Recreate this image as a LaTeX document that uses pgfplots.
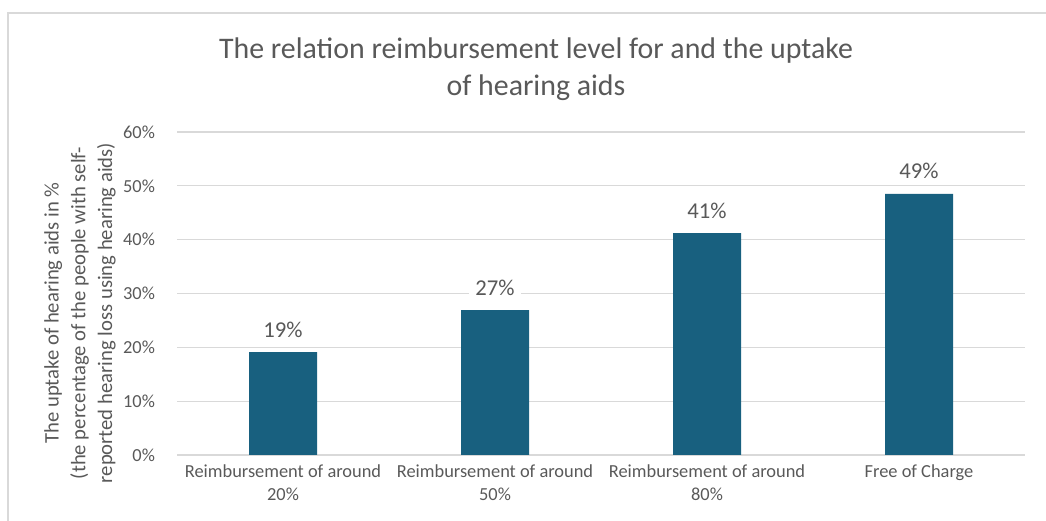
\documentclass[border=0pt]{standalone}
\usepackage{pgfplots}
\pgfplotsset{compat=1.18}
\usepackage{fontspec}
\setmainfont{Carlito}
\definecolor{barc}{HTML}{18607F}
\definecolor{txt}{HTML}{595959}
\definecolor{gridc}{HTML}{D9D9D9}
\begin{document}
\begin{tikzpicture}[x=0.75pt,y=0.75pt]
\useasboundingbox (0,0) rectangle (1046,521);
\draw[gridc, line width=1.5pt] (8,-5) -- (8,508) -- (1050,508);
\node[txt, font=\fontsize{22.4}{28}\selectfont, align=center] at (536,452) {The relation reimbursement level for and the uptake\\of hearing aids};
\node[txt, font=\fontsize{15.5}{20}\selectfont, align=center, rotate=90] at (80,208) {The uptake of hearing aids in \%\\(the percentage of the people with self-\\reported hearing loss using hearing aids)};
\begin{axis}[
  at={(132.75pt,49.5pt)}, anchor=south west,
  scale only axis, width=636pt, height=242.25pt,
  xmin=-0.5, xmax=3.5, ymin=0, ymax=60,
  ybar, bar width=51pt,
  axis x line*=bottom, axis y line*=left,
  y axis line style={draw=none},
  x axis line style={draw=gridc, line width=0.8pt},
  major tick length=0pt,
  ytick={0,10,...,60},
  yticklabel={\pgfmathprintnumber{\tick}\%},
  xtick={0,1,2,3},
  xticklabels={Reimbursement of around\\20\%, Reimbursement of around\\50\%, Reimbursement of around\\80\%, Free of Charge},
  xticklabel style={align=center, font=\fontsize{13.8}{16.8}\selectfont, text=txt, yshift=-4pt},
  yticklabel style={font=\fontsize{13.8}{15}\selectfont, text=txt, xshift=-13pt},
  /pgf/number format/assume math mode=true,
  ymajorgrids, grid style={draw=gridc, line width=0.8pt},
  point meta=explicit symbolic,
  nodes near coords,
  nodes near coords style={font=\fontsize{17}{20}\selectfont, text=txt, fill=white, inner xsep=5pt, inner ysep=2pt, anchor=south, yshift=9pt},
  clip=false,
]
\addplot[fill=barc, draw=none] table[meta=label] {
x y label
0 19.1 19\%
1 26.9 27\%
2 41.2 41\%
3 48.5 49\%
};
\end{axis}
\end{tikzpicture}
\end{document}
